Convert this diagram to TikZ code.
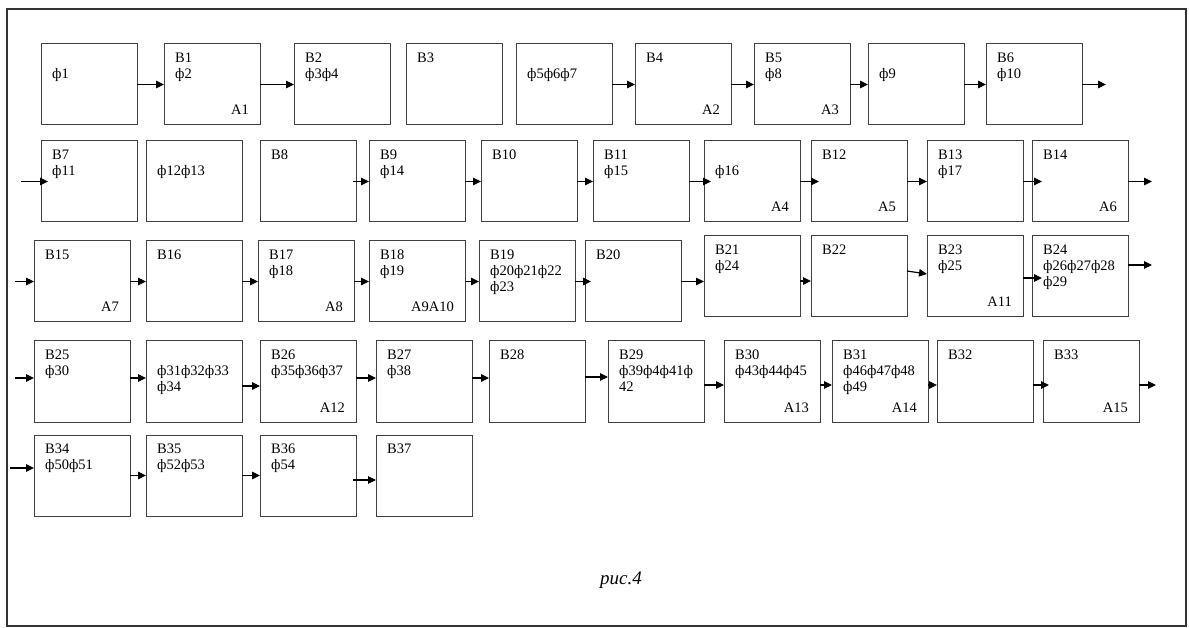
\documentclass[tikz,border=0pt]{standalone}
\usepackage{fontspec}
\setmainfont{Liberation Serif}
\usetikzlibrary{calc,arrows.meta}
\tikzset{
  box/.style={draw=black!75, line width=1pt, minimum width=96pt, minimum height=81pt,
    inner sep=0pt, outer sep=0pt, anchor=north west},
  txt/.style={anchor=north west, inner sep=0pt, align=left,
    font=\fontsize{14.5}{16}\selectfont},
  lab/.style={anchor=base east, inner sep=0pt, font=\fontsize{14.5}{16}\selectfont},
  arr/.style={draw=black, line width=1.2pt, -{Triangle[length=8pt,width=7.5pt]}},
  frame/.style={draw=black!80, line width=2pt},
  captext/.style={font=\fontsize{19}{22}\selectfont\itshape, inner sep=0pt}
}
\newcommand{\blk}[5][]{%
  \node[box] (#2) at (#3,#4) {};
  \node[txt] (#2t) at ($(#2.north west)+(11,6.8)$) {#5};
  \if\relax\detokenize{#1}\relax\else
    \node[lab] (#2a) at ($(#2.south east)+(-11,-10)$) {#1};
  \fi}
\begin{document}
\begin{tikzpicture}[x=1pt,y=-1pt]
\useasboundingbox (0,0) rectangle (1189,628);
\draw[frame] (6.5,9) rectangle (1185.5,626);
% row 1
\blk{b1}{41}{44}{\strut\\\strut ф1}
\blk[А1]{b2}{164}{44}{\strut В1\\\strut ф2}
\blk{b3}{294}{44}{\strut В2\\\strut ф3ф4}
\blk{b4}{406}{44}{\strut В3}
\blk{b5}{516}{44}{\strut\\\strut ф5ф6ф7}
\blk[А2]{b6}{635}{44}{\strut В4}
\blk[А3]{b7}{754}{44}{\strut В5\\\strut ф8}
\blk{b8}{868}{44}{\strut\\\strut ф9}
\blk{b9}{986}{44}{\strut В6\\\strut ф10}
% row 2
\blk{c1}{41}{141}{\strut В7\\\strut ф11}
\blk{c2}{146}{141}{\strut\\\strut ф12ф13}
\blk{c3}{260}{141}{\strut В8}
\blk{c4}{369}{141}{\strut В9\\\strut ф14}
\blk{c5}{481}{141}{\strut В10}
\blk{c6}{593}{141}{\strut В11\\\strut ф15}
\blk[А4]{c7}{704}{141}{\strut\\\strut ф16}
\blk[А5]{c8}{811}{141}{\strut В12}
\blk{c9}{927}{141}{\strut В13\\\strut ф17}
\blk[А6]{c10}{1032}{141}{\strut В14}
% row 3
\blk[А7]{d1}{34}{241}{\strut В15}
\blk{d2}{146}{241}{\strut В16}
\blk[А8]{d3}{258}{241}{\strut В17\\\strut ф18}
\blk[А9А10]{d4}{369}{241}{\strut В18\\\strut ф19}
\blk{d5}{479}{241}{\strut В19\\\strut ф20ф21ф22\\\strut ф23}
\blk{d6}{585}{241}{\strut В20}
\blk{d7}{704}{236}{\strut В21\\\strut ф24}
\blk{d8}{811}{236}{\strut В22}
\blk[А11]{d9}{927}{236}{\strut В23\\\strut ф25}
\blk{d10}{1032}{236}{\strut В24\\\strut ф26ф27ф28\\\strut ф29}
% row 4
\blk{e1}{34}{341}{\strut В25\\\strut ф30}
\blk{e2}{146}{341}{\strut\\\strut ф31ф32ф33\\\strut ф34}
\blk[А12]{e3}{260}{341}{\strut В26\\\strut ф35ф36ф37}
\blk{e4}{376}{341}{\strut В27\\\strut ф38}
\blk{e5}{489}{341}{\strut В28}
\blk{e6}{608}{341}{\strut В29\\\strut ф39ф4ф41ф\\\strut 42}
\blk[А13]{e7}{724}{341}{\strut В30\\\strut ф43ф44ф45}
\blk[А14]{e8}{832}{341}{\strut В31\\\strut ф46ф47ф48\\\strut ф49}
\blk{e9}{937}{341}{\strut В32}
\blk[А15]{e10}{1043}{341}{\strut В33}
% row 5
\blk{f1}{34}{435}{\strut В34\\\strut ф50ф51}
\blk{f2}{146}{435}{\strut В35\\\strut ф52ф53}
\blk{f3}{260}{435}{\strut В36\\\strut ф54}
\blk{f4}{376}{435}{\strut В37}
% free ends
\coordinate (o1) at (1106,84.5);
\coordinate (i2) at (21,181.5);
\coordinate (o2) at (1152,181.5);
\coordinate (i3) at (15,281.5);
\coordinate (o3) at (1152,265);
\coordinate (i4) at (15,378);
\coordinate (o4) at (1156,385);
\coordinate (i5) at (10,468);
% row 1 arrows
\draw[arr] (b1.east) -- (b2.west);
\draw[arr] (b2.east) -- (b3.west);
\draw[arr] (b5.east) -- (b6.west);
\draw[arr] (b6.east) -- (b7.west);
\draw[arr] (b7.east) -- (b8.west);
\draw[arr] (b8.east) -- (b9.west);
\draw[arr] (b9.east) -- (o1);
% row 2 arrows
\draw[arr] (i2) -- ($(c1.west)+(7,0)$);
\draw[arr] ($(c3.east)+(-3,0)$) -- (c4.west);
\draw[arr] (c4.east) -- (c5.west);
\draw[arr] (c5.east) -- (c6.west);
\draw[arr] (c6.east) -- ($(c7.west)+(7,0)$);
\draw[arr] (c7.east) -- ($(c8.west)+(8,0)$);
\draw[arr] (c8.east) -- (c9.west);
\draw[arr] (c9.east) -- ($(c10.west)+(10,0)$);
\draw[arr] (c10.east) -- (o2);
% row 3 arrows
\draw[arr] (i3) -- (d1.west);
\draw[arr] (d1.east) -- (d2.west);
\draw[arr] (d2.east) -- (d3.west);
\draw[arr] (d3.east) -- (d4.west);
\draw[arr] (d4.east) -- (d5.west);
\draw[arr] (d5.east) -- ($(d6.west)+(6,0)$);
\draw[arr] (d6.east) -- (d7.west |- d6.east);
\draw[arr] ($(d7.east)+(0,4.5)$) -- ($(d8.west)+(0,4.5)$);
\draw[arr] ($(d8.east)+(0,-5.5)$) -- ($(d9.west)+(0,-2.5)$);
\draw[arr] ($(d9.east)+(0,1.5)$) -- ($(d10.west)+(10,1.5)$);
\draw[arr] ($(d10.east)+(0,-11.5)$) -- (o3);
% row 4 arrows
\draw[arr] (i4) -- ($(e1.west)+(0,-3.5)$);
\draw[arr] ($(e1.east)+(0,-3.5)$) -- ($(e2.west)+(0,-3.5)$);
\draw[arr] ($(e2.east)+(0,4.5)$) -- ($(e3.west)+(0,4.5)$);
\draw[arr] ($(e3.east)+(0,-3.5)$) -- ($(e4.west)+(0,-3.5)$);
\draw[arr] ($(e4.east)+(0,-3.5)$) -- ($(e5.west)+(0,-3.5)$);
\draw[arr] ($(e5.east)+(0,-4.5)$) -- ($(e6.west)+(0,-4.5)$);
\draw[arr] ($(e6.east)+(0,3.5)$) -- ($(e7.west)+(0,3.5)$);
\draw[arr] ($(e7.east)+(0,3.5)$) -- ($(e8.west)+(0,3.5)$);
\draw[arr] ($(e8.east)+(0,3.5)$) -- ($(e9.west)+(0,3.5)$);
\draw[arr] ($(e9.east)+(0,3.5)$) -- ($(e10.west)+(6,3.5)$);
\draw[arr] ($(e10.east)+(0,3.5)$) -- (o4);
% row 5 arrows
\draw[arr] (i5) -- ($(f1.west)+(0,-7.5)$);
\draw[arr] (f1.east) -- (f2.west);
\draw[arr] (f2.east) -- (f3.west);
\draw[arr] ($(f3.east)+(-3,4.5)$) -- ($(f4.west)+(0,4.5)$);
% caption
\node[captext] (caption) at (621,580) {рис.4};
\end{tikzpicture}
\end{document}
